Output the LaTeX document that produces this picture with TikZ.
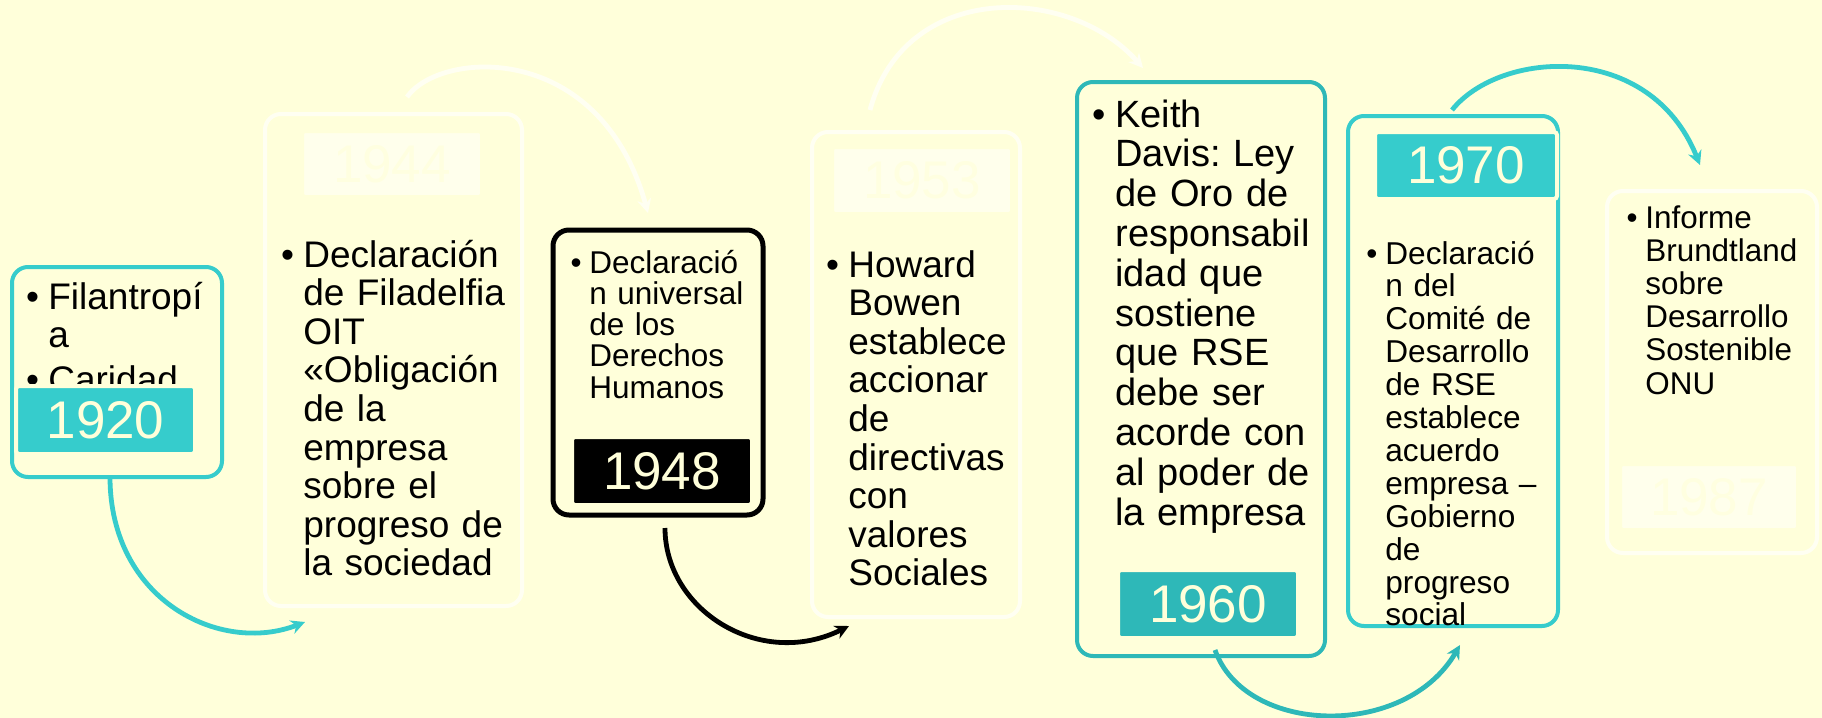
\documentclass[tikz,border=0pt]{standalone}
\usepackage{fontspec}
\setmainfont{Liberation Sans}
\usepackage{xcolor}
\usetikzlibrary{positioning, arrows.meta}

\definecolor{bg}{HTML}{FFFFDA}
\definecolor{teallight}{HTML}{36CCCC}
\definecolor{tealdark}{HTML}{2EB8B8}
\definecolor{fadeline}{HTML}{FFFFF2}
\definecolor{fadefill}{HTML}{FFFFEC}
\definecolor{fadetext}{HTML}{FFFFE0}

\newcommand{\itm}{\leavevmode\llap{\textbullet\hspace{0.25em}}}
\frenchspacing

\tikzset{
  card/.style={rounded corners=8pt, line width=2pt, fill=bg},
  yearbox/.style={rounded corners=1.5pt, draw=bg, line width=2pt, text=bg, inner sep=0pt,
    font=\fontsize{26.5pt}{26.5pt}\selectfont},
  info/.style={anchor=base west, inner sep=0pt, text width=130pt, align=left},
  link/.style={line width=2.4pt, -{Stealth[length=7pt, width=7pt]}},
}

\begin{document}
\begin{tikzpicture}[x=0.5pt, y=-0.5pt]
    \useasboundingbox (0,0) rectangle (1822,718);
    \fill[bg] (0,0) rectangle (1822,718);

    % cards
    \node[card, draw=teallight, minimum width=105pt, minimum height=105pt] (b1920) at (117,372) {};
    \node[card, draw=fadeline, minimum width=128.5pt, minimum height=246pt] (b1944) at (393.5,360) {};
    \node[card, draw=black, line width=2.5pt, minimum width=105pt, minimum height=142.5pt] (b1948) at (658,372.5) {};
    \node[card, draw=fadeline, minimum width=104pt, minimum height=242.5pt] (b1953) at (916,374.5) {};
    \node[card, draw=tealdark, minimum width=124pt, minimum height=287pt] (b1960) at (1201,369) {};
    \node[card, draw=teallight, minimum width=105pt, minimum height=255pt] (b1970) at (1453,371) {};
    \node[card, draw=fadeline, minimum width=105pt, minimum height=181pt] (b1987) at (1712,372) {};

    % texts
    \node[info, font=\fontsize{18.5pt}{19pt}\selectfont] (t1920) at (48,309)
        {\itm Filantropí\\a\\[3.5pt]\itm Caridad};
    \node[info, font=\fontsize{18.5pt}{19.3pt}\selectfont] (t1944) at (303,267)
        {\itm Declaración\\de Filadelfia\\OIT\\«Obligación\\de la\\empresa\\sobre el\\progreso de\\la sociedad};
    \node[info, font=\fontsize{15.75pt}{15.65pt}\selectfont] (t1948) at (589,273)
        {\itm Declaració\\n universal\\de los\\Derechos\\Humanos};
    \node[info, font=\fontsize{18.5pt}{19.3pt}\selectfont] (t1953) at (848,277)
        {\itm Howard\\Bowen\\establece\\accionar\\de\\directivas\\con\\valores\\Sociales};
    \node[info, font=\fontsize{19pt}{19.9pt}\selectfont] (t1960) at (1115,127)
        {\itm Keith\\Davis: Ley\\de Oro de\\responsabil\\idad que\\sostiene\\que RSE\\debe ser\\acorde con\\al poder de\\la empresa};
    \node[info, font=\fontsize{15.8pt}{16.45pt}\selectfont] (t1970) at (1385,264)
        {\itm Declaració\\n del\\Comité de\\Desarrollo\\de RSE\\establece\\acuerdo\\empresa –\\Gobierno\\de\\progreso\\social};
    \node[info, font=\fontsize{15.7pt}{16.6pt}\selectfont] (t1987) at (1645,228)
        {\itm Informe\\Brundtland\\sobre\\Desarrollo\\Sostenible\\ONU};

    % years
    \node[yearbox, fill=teallight, minimum width=89.5pt, minimum height=34pt] (y1920) at (105.5,420) {1920};
    \node[yearbox, fill=fadefill, text=fadetext, minimum width=90pt, minimum height=33pt] (y1944) at (392,164) {1944};
    \node[yearbox, fill=black, minimum width=90pt, minimum height=34pt] (y1948) at (662,471) {1948};
    \node[yearbox, fill=fadefill, text=fadetext, minimum width=90pt, minimum height=33.5pt] (y1953) at (922,180.5) {1953};
    \node[yearbox, fill=tealdark, minimum width=90pt, minimum height=34pt] (y1960) at (1208,604) {1960};
    \node[yearbox, fill=teallight, minimum width=91pt, minimum height=33.5pt] (y1970) at (1466,165.5) {1970};
    \node[yearbox, fill=fadefill, text=fadetext, minimum width=89pt, minimum height=33pt] (y1987) at (1709,497) {1987};

    % curved links
    \coordinate (a1s) at (110,477); \coordinate (a1e) at (305,622);
    \coordinate (a2s) at (407,97);  \coordinate (a2e) at (648,213);
    \coordinate (a3s) at (665,528); \coordinate (a3e) at (849,626);
    \coordinate (a4s) at (870,110); \coordinate (a4e) at (1143,68);
    \coordinate (a5s) at (1215,650); \coordinate (a5e) at (1460,645);
    \coordinate (a6s) at (1452,110); \coordinate (a6e) at (1700,165);

    \draw[link, teallight] (a1s) .. controls (110,600) and (220,655) .. (a1e);
    \draw[link, fadeline] (a2s) .. controls (440,50) and (600,40) .. (a2e);
    \draw[link, black] (a3s) .. controls (665,610) and (760,670) .. (a3e);
    \draw[link, fadeline] (a4s) .. controls (905,-20) and (1070,-15) .. (a4e);
    \draw[link, tealdark] (a5s) .. controls (1245,735) and (1405,740) .. (a5e);
    \draw[link, teallight] (a6s) .. controls (1500,50) and (1650,40) .. (a6e);
\end{tikzpicture}
\end{document}
